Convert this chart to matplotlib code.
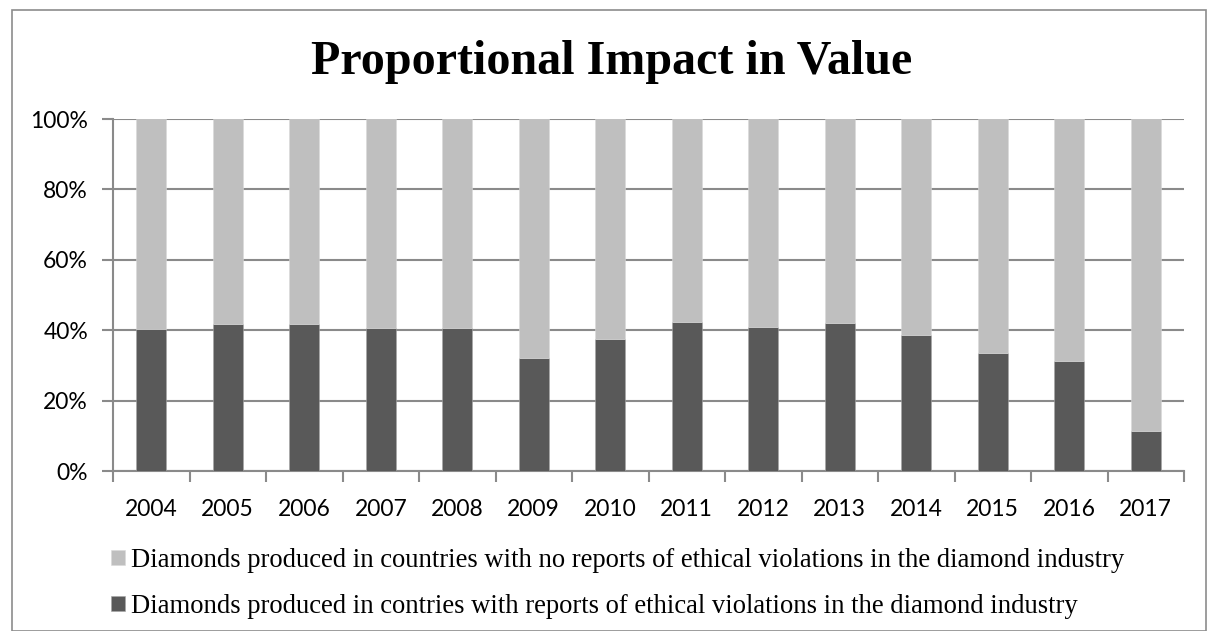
import numpy as np
import matplotlib
matplotlib.use('Agg')
import matplotlib.pyplot as plt
from matplotlib.patches import Rectangle
from matplotlib.ticker import FuncFormatter

# data (percent of value)
years = ['2004', '2005', '2006', '2007', '2008', '2009', '2010',
         '2011', '2012', '2013', '2014', '2015', '2016', '2017']
violations = [40.3, 41.8, 41.8, 40.7, 40.5, 32.0, 37.4,
              42.2, 41.0, 42.0, 38.7, 33.5, 31.2, 11.3]
no_violations = [59.7, 58.2, 58.2, 59.3, 59.5, 68.0, 62.6,
                 57.8, 59.0, 58.0, 61.3, 66.5, 68.8, 88.7]
label_no = 'Diamonds produced in countries with no reports of ethical violations in the diamond industry'
label_yes = 'Diamonds produced in contries with reports of ethical violations in the diamond industry'

W, H = 1208, 631
fig = plt.figure(figsize=(W / 100, H / 100), dpi=100)
fig.patch.set_facecolor('white')

# outer chart border
fig.patches.append(Rectangle((12 / W, 0), (W - 14) / W, (H - 10) / H,
                             transform=fig.transFigure, fill=False,
                             edgecolor='#8c8c8c', linewidth=1.2))

ax = fig.add_axes([113 / W, 1 - 471 / H, (1184 - 113) / W, (471 - 119) / H])

x = np.arange(len(years))
dark = ax.bar(x, violations, width=0.39, color='#595959', edgecolor='#a6a6a6',
              linewidth=0.4, zorder=3, label=label_yes)
light = ax.bar(x, no_violations, width=0.39, bottom=violations, color='#bfbfbf',
               edgecolor='#d9d9d9', linewidth=0.4, zorder=3, label=label_no)

ax.set_xlim(-0.5, len(years) - 0.5)
ax.set_ylim(0, 100)
ax.set_yticks(np.arange(0, 101, 20))
ax.yaxis.set_major_formatter(FuncFormatter(lambda v, p: '%d%%' % v))
ax.yaxis.grid(True, color='#8a8a8a', linewidth=1.5, zorder=0)

ax.set_xticks(x)
ax.set_xticklabels(years)
ax.set_xticks(np.arange(-0.5, len(years), 1), minor=True)
ax.tick_params(axis='x', which='major', length=0, pad=20)
ax.tick_params(axis='x', which='minor', length=8, width=1.5, color='#8a8a8a')
ax.tick_params(axis='y', length=8, width=1.5, color='#8a8a8a', pad=10)
for t in ax.get_xticklabels() + ax.get_yticklabels():
    t.set_fontfamily('Lato')
    t.set_fontsize(16.5)

for s in ['top', 'right']:
    ax.spines[s].set_visible(False)
for s in ['left', 'bottom']:
    ax.spines[s].set_color('#8a8a8a')
    ax.spines[s].set_linewidth(1.5)

fig.text(612 / W, 1 - 62 / H, 'Proportional Impact in Value', ha='center', va='center',
         fontfamily='Liberation Serif', fontweight='bold', fontsize=34.6)

leg = fig.legend(handles=[light, dark], labels=[label_no, label_yes],
                 loc='center left', bbox_to_anchor=(111 / W, 1 - 583.5 / H),
                 frameon=False, borderpad=0, borderaxespad=0,
                 handlelength=0.52, handleheight=0.52,
                 handletextpad=0.22, labelspacing=0.8,
                 prop={'family': 'Liberation Serif', 'size': 19.2})

fig.savefig('out.png', dpi=100)
